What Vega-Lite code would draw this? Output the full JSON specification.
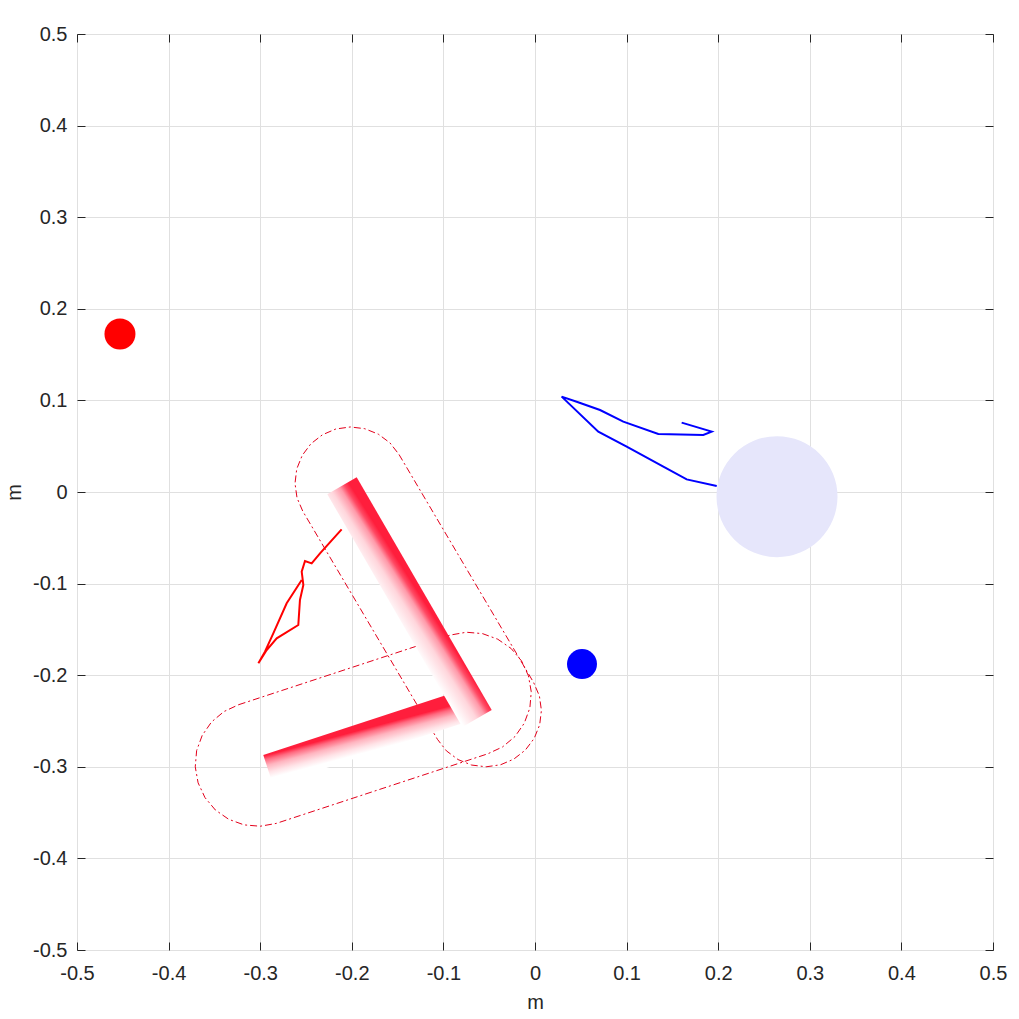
{
  "$schema": "https://vega.github.io/schema/vega-lite/v6.json",
  "width": 916,
  "height": 916,
  "autosize": "none",
  "padding": {"left": 77, "top": 34, "right": 26, "bottom": 69},
  "background": "white",
  "config": {
    "view": {"stroke": "#262626", "strokeWidth": 1},
    "axis": {
      "domain": false,
      "gridColor": "#e0e0e0",
      "gridWidth": 1,
      "tickColor": "#262626",
      "labelFont": "Liberation Sans",
      "labelFontSize": 20,
      "labelColor": "#262626",
      "labelFlush": false,
      "labelOverlap": false,
      "labelBound": false,
      "titleFont": "Liberation Sans",
      "titleFontSize": 20,
      "titleFontWeight": "normal",
      "titleColor": "#262626"
    }
  },
  "resolve": {"axis": {"x": "independent", "y": "independent"}},
  "datasets": {
    "cap1": [
      {"i": 0, "x": -0.1485, "y": 0.0410},
      {"i": 1, "x": -0.0015, "y": -0.2080},
      {"i": 2, "x": 0.0048, "y": -0.2226},
      {"i": 3, "x": 0.0070, "y": -0.2384},
      {"i": 4, "x": 0.0051, "y": -0.2542},
      {"i": 5, "x": -0.0009, "y": -0.2690},
      {"i": 6, "x": -0.0105, "y": -0.2817},
      {"i": 7, "x": -0.0230, "y": -0.2915},
      {"i": 8, "x": -0.0376, "y": -0.2978},
      {"i": 9, "x": -0.0534, "y": -0.3000},
      {"i": 10, "x": -0.0692, "y": -0.2981},
      {"i": 11, "x": -0.0840, "y": -0.2921},
      {"i": 12, "x": -0.0967, "y": -0.2826},
      {"i": 13, "x": -0.1065, "y": -0.2700},
      {"i": 14, "x": -0.2535, "y": -0.0210},
      {"i": 15, "x": -0.2598, "y": -0.0064},
      {"i": 16, "x": -0.2620, "y": 0.0094},
      {"i": 17, "x": -0.2601, "y": 0.0252},
      {"i": 18, "x": -0.2541, "y": 0.0400},
      {"i": 19, "x": -0.2446, "y": 0.0527},
      {"i": 20, "x": -0.2320, "y": 0.0625},
      {"i": 21, "x": -0.2174, "y": 0.0688},
      {"i": 22, "x": -0.2016, "y": 0.0710},
      {"i": 23, "x": -0.1858, "y": 0.0691},
      {"i": 24, "x": -0.1710, "y": 0.0631},
      {"i": 25, "x": -0.1583, "y": 0.0536},
      {"i": 26, "x": -0.1485, "y": 0.0410}
    ],
    "cap2": [
      {"i": 0, "x": -0.3235, "y": -0.2322},
      {"i": 1, "x": -0.0925, "y": -0.1562},
      {"i": 2, "x": -0.0750, "y": -0.1531},
      {"i": 3, "x": -0.0573, "y": -0.1546},
      {"i": 4, "x": -0.0407, "y": -0.1607},
      {"i": 5, "x": -0.0261, "y": -0.1708},
      {"i": 6, "x": -0.0147, "y": -0.1844},
      {"i": 7, "x": -0.0072, "y": -0.2005},
      {"i": 8, "x": -0.0041, "y": -0.2180},
      {"i": 9, "x": -0.0056, "y": -0.2357},
      {"i": 10, "x": -0.0117, "y": -0.2524},
      {"i": 11, "x": -0.0218, "y": -0.2669},
      {"i": 12, "x": -0.0354, "y": -0.2783},
      {"i": 13, "x": -0.0515, "y": -0.2858},
      {"i": 14, "x": -0.2825, "y": -0.3618},
      {"i": 15, "x": -0.3000, "y": -0.3649},
      {"i": 16, "x": -0.3177, "y": -0.3634},
      {"i": 17, "x": -0.3344, "y": -0.3573},
      {"i": 18, "x": -0.3489, "y": -0.3472},
      {"i": 19, "x": -0.3603, "y": -0.3336},
      {"i": 20, "x": -0.3678, "y": -0.3175},
      {"i": 21, "x": -0.3709, "y": -0.3000},
      {"i": 22, "x": -0.3694, "y": -0.2823},
      {"i": 23, "x": -0.3633, "y": -0.2657},
      {"i": 24, "x": -0.3532, "y": -0.2511},
      {"i": 25, "x": -0.3396, "y": -0.2397},
      {"i": 26, "x": -0.3235, "y": -0.2322}
    ],
    "link1": [
      {"i": 0, "x": -0.2107, "y": 0.0068},
      {"i": 1, "x": -0.0633, "y": -0.2473}
    ],
    "link2": [
      {"i": 0, "x": -0.0837, "y": -0.2357},
      {"i": 1, "x": -0.2912, "y": -0.3037}
    ],
    "redpath": [
      {"i": 0, "x": -0.2111, "y": -0.0408},
      {"i": 1, "x": -0.2347, "y": -0.0670},
      {"i": 2, "x": -0.2438, "y": -0.0779},
      {"i": 3, "x": -0.2511, "y": -0.0753},
      {"i": 4, "x": -0.2547, "y": -0.0870},
      {"i": 5, "x": -0.2529, "y": -0.1015},
      {"i": 6, "x": -0.2566, "y": -0.1179},
      {"i": 7, "x": -0.2584, "y": -0.1452},
      {"i": 8, "x": -0.2820, "y": -0.1598},
      {"i": 9, "x": -0.2929, "y": -0.1725},
      {"i": 10, "x": -0.3020, "y": -0.1870},
      {"i": 11, "x": -0.2948, "y": -0.1743},
      {"i": 12, "x": -0.2857, "y": -0.1543},
      {"i": 13, "x": -0.2711, "y": -0.1215},
      {"i": 14, "x": -0.2547, "y": -0.0961}
    ],
    "bluepath": [
      {"i": 0, "x": 0.1984, "y": 0.0066},
      {"i": 1, "x": 0.1656, "y": 0.0138},
      {"i": 2, "x": 0.1401, "y": 0.0277},
      {"i": 3, "x": 0.1001, "y": 0.0495},
      {"i": 4, "x": 0.0691, "y": 0.0659},
      {"i": 5, "x": 0.0291, "y": 0.1041},
      {"i": 6, "x": 0.0455, "y": 0.0986},
      {"i": 7, "x": 0.0710, "y": 0.0895},
      {"i": 8, "x": 0.0964, "y": 0.0768},
      {"i": 9, "x": 0.1346, "y": 0.0633},
      {"i": 10, "x": 0.1837, "y": 0.0622},
      {"i": 11, "x": 0.1929, "y": 0.0659},
      {"i": 12, "x": 0.1601, "y": 0.0757}
    ],
    "bigcircle": [{"x": 0.2642, "y": -0.0051}],
    "reddot": [{"x": -0.4531, "y": 0.1725}],
    "bluedot": [{"x": 0.0513, "y": -0.1878}]
  },
  "layer": [
    {
      "data": {"name": "cap1"},
      "mark": {"type": "line", "stroke": "#e3001b", "strokeWidth": 1, "strokeDash": [7, 3, 2, 3]},
      "encoding": {
        "x": {
          "field": "x",
          "type": "quantitative",
          "scale": {"domain": [-0.5, 0.5], "nice": false, "zero": false},
          "axis": {
            "orient": "bottom",
            "title": "m",
            "values": [-0.5, -0.4, -0.3, -0.2, -0.1, 0, 0.1, 0.2, 0.3, 0.4, 0.5],
            "labelExpr": "datum.value == 0 ? '0' : (datum.value < 0 ? '-' : '') + format(abs(datum.value), '.1f')",
            "grid": true,
            "ticks": true,
            "tickSize": 8,
            "offset": -8,
            "labelPadding": 13,
            "titlePadding": 9
          }
        },
        "y": {
          "field": "y",
          "type": "quantitative",
          "scale": {"domain": [-0.5, 0.5], "nice": false, "zero": false},
          "axis": {
            "orient": "left",
            "title": "m",
            "values": [-0.5, -0.4, -0.3, -0.2, -0.1, 0, 0.1, 0.2, 0.3, 0.4, 0.5],
            "labelExpr": "datum.value == 0 ? '0' : (datum.value < 0 ? '-' : '') + format(abs(datum.value), '.1f')",
            "grid": true,
            "ticks": true,
            "tickSize": 8,
            "offset": -8,
            "labelPadding": 10,
            "titlePadding": 8
          }
        },
        "order": {"field": "i", "type": "quantitative"}
      }
    },
    {
      "data": {"name": "reddot"},
      "mark": {"type": "point", "opacity": 0},
      "encoding": {
        "x": {
          "field": "x",
          "type": "quantitative",
          "scale": {"domain": [-0.5, 0.5], "nice": false, "zero": false},
          "axis": {
            "orient": "top",
            "title": null,
            "values": [-0.5, -0.4, -0.3, -0.2, -0.1, 0, 0.1, 0.2, 0.3, 0.4, 0.5],
            "labels": false,
            "grid": false,
            "ticks": true,
            "tickSize": 8,
            "offset": -8
          }
        },
        "y": {
          "field": "y",
          "type": "quantitative",
          "scale": {"domain": [-0.5, 0.5], "nice": false, "zero": false},
          "axis": {
            "orient": "right",
            "title": null,
            "values": [-0.5, -0.4, -0.3, -0.2, -0.1, 0, 0.1, 0.2, 0.3, 0.4, 0.5],
            "labels": false,
            "grid": false,
            "ticks": true,
            "tickSize": 8,
            "offset": -8
          }
        }
      }
    },
    {
      "data": {"name": "cap2"},
      "mark": {"type": "line", "stroke": "#e3001b", "strokeWidth": 1, "strokeDash": [7, 3, 2, 3]},
      "encoding": {
        "x": {"field": "x", "type": "quantitative", "axis": null},
        "y": {"field": "y", "type": "quantitative", "axis": null},
        "order": {"field": "i", "type": "quantitative"}
      }
    },
    {
      "data": {"name": "link2"},
      "mark": {
        "type": "line",
        "strokeWidth": 32,
        "strokeCap": "butt",
        "stroke": {
          "gradient": "linear",
          "x1": 0, "y1": 0, "x2": 0.8175, "y2": 1,
          "stops": [
            {"offset": 0.45, "color": "#ff1e3c"},
            {"offset": 0.49, "color": "#ff6a80"},
            {"offset": 0.55, "color": "#ffb4bf"},
            {"offset": 0.62, "color": "#ffe3e7"},
            {"offset": 0.68, "color": "#ffffff"}
          ]
        }
      },
      "encoding": {
        "x": {"field": "x", "type": "quantitative", "axis": null},
        "y": {"field": "y", "type": "quantitative", "axis": null},
        "order": {"field": "i", "type": "quantitative"}
      }
    },
    {
      "data": {"name": "link1"},
      "mark": {
        "type": "line",
        "strokeWidth": 34,
        "strokeCap": "butt",
        "stroke": {
          "gradient": "linear",
          "x1": 0, "y1": 1.0965, "x2": 1, "y2": 0,
          "stops": [
            {"offset": 0.44, "color": "#ffffff"},
            {"offset": 0.50, "color": "#ffd6dc"},
            {"offset": 0.535, "color": "#ff9aaa"},
            {"offset": 0.555, "color": "#ff4a64"},
            {"offset": 0.575, "color": "#ff1e3c"}
          ]
        }
      },
      "encoding": {
        "x": {"field": "x", "type": "quantitative", "axis": null},
        "y": {"field": "y", "type": "quantitative", "axis": null},
        "order": {"field": "i", "type": "quantitative"}
      }
    },
    {
      "data": {"name": "redpath"},
      "mark": {"type": "line", "stroke": "#ff0000", "strokeWidth": 2},
      "encoding": {
        "x": {"field": "x", "type": "quantitative", "axis": null},
        "y": {"field": "y", "type": "quantitative", "axis": null},
        "order": {"field": "i", "type": "quantitative"}
      }
    },
    {
      "data": {"name": "bluepath"},
      "mark": {"type": "line", "stroke": "#0000ff", "strokeWidth": 2},
      "encoding": {
        "x": {"field": "x", "type": "quantitative", "axis": null},
        "y": {"field": "y", "type": "quantitative", "axis": null},
        "order": {"field": "i", "type": "quantitative"}
      }
    },
    {
      "data": {"name": "bigcircle"},
      "mark": {"type": "point", "shape": "circle", "filled": true, "size": 14641, "color": "#e6e6fb", "opacity": 1},
      "encoding": {
        "x": {"field": "x", "type": "quantitative", "axis": null},
        "y": {"field": "y", "type": "quantitative", "axis": null}
      }
    },
    {
      "data": {"name": "reddot"},
      "mark": {"type": "point", "shape": "circle", "filled": true, "size": 961, "color": "#ff0000", "opacity": 1},
      "encoding": {
        "x": {"field": "x", "type": "quantitative", "axis": null},
        "y": {"field": "y", "type": "quantitative", "axis": null}
      }
    },
    {
      "data": {"name": "bluedot"},
      "mark": {"type": "point", "shape": "circle", "filled": true, "size": 900, "color": "#0000ff", "opacity": 1},
      "encoding": {
        "x": {"field": "x", "type": "quantitative", "axis": null},
        "y": {"field": "y", "type": "quantitative", "axis": null}
      }
    }
  ]
}
